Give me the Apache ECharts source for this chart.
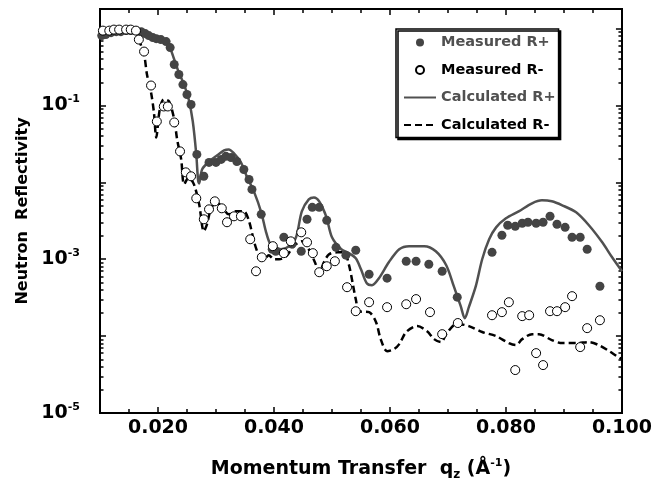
<!DOCTYPE html>
<html>
<head>
<meta charset="utf-8">
<script src="https://cdn.jsdelivr.net/npm/echarts@6/dist/echarts.min.js"></script>
<style>
  html, body { margin: 0; padding: 0; background: #fff; }
  #main { width: 655px; height: 487px; }
</style>
</head>
<body>
<div id="main"></div>
<script>
// measured R+ (filled circles)
var measPlusQ = [0.0103, 0.0110, 0.0119, 0.0128, 0.0136, 0.0145, 0.0153, 0.0162, 0.0171, 0.0178,
  0.0184, 0.0191, 0.0197, 0.0205, 0.0214, 0.0221, 0.0228, 0.0236, 0.0243, 0.0250,
  0.0257, 0.0267, 0.0279, 0.0288, 0.0300, 0.0309, 0.0317, 0.0326, 0.0336, 0.0348,
  0.0357, 0.0362, 0.0378, 0.0397, 0.0403, 0.0417, 0.0431, 0.0447, 0.0457, 0.0466,
  0.0478, 0.0491, 0.0507, 0.0524, 0.0541, 0.0564, 0.0595, 0.0628, 0.0645, 0.0667,
  0.0690, 0.0716, 0.0776, 0.0793, 0.0803, 0.0816, 0.0828, 0.0838, 0.0852, 0.0864,
  0.0876, 0.0888, 0.0902, 0.0914, 0.0928, 0.0940, 0.0962];
var measPlusR = [0.811, 0.836, 0.887, 0.914, 0.914, 0.942, 0.942, 0.942, 0.914, 0.861,
  0.811, 0.764, 0.741, 0.720, 0.678, 0.567, 0.341, 0.253, 0.187, 0.139,
  0.103, 0.0231, 0.0120, 0.0182, 0.0182, 0.0199, 0.0218, 0.0211, 0.0187, 0.0147,
  0.0109, 0.0081, 0.00384, 0.00135, 0.00127, 0.00193, 0.00157, 0.00127, 0.00331, 0.00473,
  0.00473, 0.00321, 0.00143, 0.00113, 0.00131, 0.000638, 0.000567, 0.000942, 0.000942, 0.000861,
  0.000698, 0.000321, 0.00123, 0.00205, 0.00277, 0.00268, 0.00294, 0.00303, 0.00294, 0.00303,
  0.00362, 0.00285, 0.00260, 0.00193, 0.00193, 0.00135, 0.000446];

// measured R- (open circles)
var measMinusQ = [0.0105, 0.0116, 0.0124, 0.0133, 0.0145, 0.0153, 0.0162, 0.0167, 0.0176, 0.0188,
  0.0198, 0.0210, 0.0217, 0.0228, 0.0238, 0.0248, 0.0257, 0.0266, 0.0279, 0.0288,
  0.0298, 0.0310, 0.0319, 0.0331, 0.0343, 0.0359, 0.0369, 0.0379, 0.0398, 0.0417,
  0.0429, 0.0447, 0.0457, 0.0467, 0.0478, 0.0491, 0.0505, 0.0526, 0.0541, 0.0564,
  0.0595, 0.0628, 0.0645, 0.0669, 0.0690, 0.0717, 0.0776, 0.0793, 0.0805, 0.0816,
  0.0828, 0.0840, 0.0852, 0.0864, 0.0876, 0.0888, 0.0902, 0.0914, 0.0928, 0.0940, 0.0962];
var measMinusR = [0.942, 0.942, 0.971, 0.971, 0.971, 0.971, 0.942, 0.720, 0.503, 0.182,
  0.0620, 0.0971, 0.0971, 0.0602, 0.0253, 0.0135, 0.0120, 0.00620, 0.00331, 0.00446,
  0.00567, 0.00460, 0.00303, 0.00362, 0.00362, 0.00182, 0.000698, 0.00106, 0.00148, 0.00120,
  0.00171, 0.00224, 0.00166, 0.00120, 0.000678, 0.000811, 0.000942, 0.000433, 0.000211, 0.000276,
  0.000238, 0.000260, 0.000303, 0.000205, 0.000106, 0.000148, 0.000187, 0.000205, 0.000276, 0.0000362,
  0.000182, 0.000187, 0.0000601, 0.0000420, 0.000211, 0.000211, 0.000238, 0.000331, 0.0000720, 0.000127, 0.000161];

// calculated R+ (solid grey)
var calcPlusQ = [0.0100, 0.0116, 0.0133, 0.0150, 0.0167, 0.0184, 0.0202, 0.0210, 0.0219, 0.0228,
  0.0236, 0.0245, 0.0253, 0.0260, 0.0266, 0.0269, 0.0271, 0.0276, 0.0288, 0.0300,
  0.0314, 0.0322, 0.0331, 0.0343, 0.0353, 0.0366, 0.0378, 0.0386, 0.0393, 0.0400,
  0.0412, 0.0426, 0.0438, 0.0448, 0.0460, 0.0469, 0.0478, 0.0490, 0.0500, 0.0516,
  0.0529, 0.0541, 0.0550, 0.0560, 0.0569, 0.0581, 0.0598, 0.0616, 0.0633, 0.0659,
  0.0679, 0.0697, 0.0710, 0.0722, 0.0729, 0.0736, 0.0748, 0.0759, 0.0771, 0.0783,
  0.0800, 0.0822, 0.0845, 0.0862, 0.0879, 0.0897, 0.0921, 0.0943, 0.0966, 0.0983, 0.1000];
var calcPlusR = [0.811, 0.861, 0.914, 0.942, 0.914, 0.836, 0.764, 0.699, 0.601, 0.396,
  0.268, 0.187, 0.120, 0.0620, 0.0231, 0.0109, 0.00970, 0.0147, 0.0187, 0.0218,
  0.0260, 0.0268, 0.0238, 0.0182, 0.0120, 0.00741, 0.00408, 0.00231, 0.00161, 0.00148,
  0.00135, 0.00148, 0.00193, 0.00420, 0.00601, 0.00638, 0.00567, 0.00362, 0.00193, 0.00135,
  0.00120, 0.00103, 0.000741, 0.000488, 0.000460, 0.000567, 0.000914, 0.00135, 0.00148, 0.00148,
  0.00127, 0.000836, 0.000446, 0.000245, 0.000171, 0.000238, 0.000446, 0.00100, 0.00182, 0.00260,
  0.00341, 0.00420, 0.00534, 0.00584, 0.00567, 0.00503, 0.00408, 0.00277, 0.00166, 0.00106, 0.000698];

// calculated R- (dashed black)
var calcMinusQ = [0.0100, 0.0116, 0.0133, 0.0150, 0.0162, 0.0167, 0.0176, 0.0181, 0.0188, 0.0193,
  0.0197, 0.0203, 0.0210, 0.0219, 0.0228, 0.0233, 0.0240, 0.0245, 0.0253, 0.0262,
  0.0271, 0.0279, 0.0284, 0.0291, 0.0300, 0.0310, 0.0322, 0.0334, 0.0348, 0.0357,
  0.0366, 0.0374, 0.0383, 0.0391, 0.0400, 0.0409, 0.0421, 0.0434, 0.0448, 0.0460,
  0.0472, 0.0478, 0.0486, 0.0495, 0.0509, 0.0521, 0.0529, 0.0536, 0.0541, 0.0547,
  0.0564, 0.0576, 0.0584, 0.0595, 0.0607, 0.0616, 0.0628, 0.0647, 0.0664, 0.0676,
  0.0688, 0.0697, 0.0710, 0.0719, 0.0736, 0.0759, 0.0783, 0.0805, 0.0817, 0.0828,
  0.0845, 0.0857, 0.0879, 0.0897, 0.0921, 0.0943, 0.0960, 0.0978, 0.0991, 0.1000];
var calcMinusR = [0.887, 0.942, 0.971, 0.971, 0.887, 0.720, 0.459, 0.253, 0.148, 0.0811,
  0.0384, 0.0887, 0.120, 0.113, 0.0658, 0.0362, 0.0199, 0.00942, 0.0116, 0.00942,
  0.00518, 0.00231, 0.00277, 0.00446, 0.00550, 0.00488, 0.00384, 0.00420, 0.00420, 0.00312,
  0.00166, 0.00113, 0.00100, 0.00113, 0.00100, 0.00100, 0.00109, 0.00148, 0.00171, 0.00135,
  0.000861, 0.000658, 0.000914, 0.00116, 0.00123, 0.00123, 0.000861, 0.000473, 0.000303, 0.000211,
  0.000205, 0.000152, 0.0000914, 0.0000638, 0.0000678, 0.0000787, 0.000113, 0.000135, 0.000116, 0.0000914,
  0.0000836, 0.000106, 0.000139, 0.000143, 0.000135, 0.000113, 0.000100, 0.0000811, 0.0000764, 0.0000914,
  0.000106, 0.000106, 0.0000887, 0.0000811, 0.0000811, 0.0000836, 0.0000764, 0.0000638, 0.0000550, 0.0000503];

// axis ticks
var xMajorTicks = [0.02, 0.04, 0.06, 0.08, 0.1];
var xMinorTicks = [0.015, 0.025, 0.03, 0.035, 0.045, 0.05, 0.055, 0.065, 0.07, 0.075, 0.085, 0.09, 0.095];
var yMajorTicks = [1e-5, 1e-4, 1e-3, 1e-2, 1e-1, 1];
var yLabelTicks = [1e-5, 1e-3, 1e-1];
var yMinorTicks = [];
for (var p = -5; p <= 0; p++) {
  for (var k = 2; k <= 9; k++) {
    var v = k * Math.pow(10, p);
    if (v < 1.8) yMinorTicks.push(v);
  }
}

function zip(xs, ys) {
  return xs.map(function (x, i) { return [x, ys[i]]; });
}

var font = 'DejaVu Sans';
var grey = '#505050';

function xAx(pos, ticks, len, withLabels) {
  var ax = {
    type: 'value', position: pos, min: 0.01, max: 0.1,
    axisLine: { onZero: false, lineStyle: { color: '#000', width: 2 } },
    axisTick: { inside: true, length: len, customValues: ticks, lineStyle: { color: '#000', width: 1.5 } },
    axisLabel: { show: false },
    splitLine: { show: false }
  };
  if (withLabels) {
    ax.axisLabel = {
      customValues: xMajorTicks, margin: 6, color: '#000',
      fontFamily: font, fontWeight: 'bold', fontSize: 19,
      formatter: function (v) { return v.toFixed(3); }
    };
    ax.name = 'Momentum Transfer  q{sub|z} (Å{sup|-1})';
    ax.nameLocation = 'middle';
    ax.nameGap = 45;
    ax.nameTextStyle = {
      color: '#000', fontFamily: font, fontWeight: 'bold', fontSize: 19,
      rich: {
        sub: { fontFamily: font, fontWeight: 'bold', fontSize: 12, padding: [10, 0, 0, 0] },
        sup: { fontFamily: font, fontWeight: 'bold', fontSize: 11, padding: [0, 0, 12, 0] }
      }
    };
  }
  return ax;
}

function yAx(pos, ticks, len, withLabels) {
  var ax = {
    type: 'log', logBase: 10, position: pos, min: 1e-5, max: 1.8,
    axisLine: { onZero: false, lineStyle: { color: '#000', width: 2 } },
    axisTick: { inside: true, length: len, customValues: ticks, lineStyle: { color: '#000', width: 1.5 } },
    axisLabel: { show: false },
    splitLine: { show: false }
  };
  if (withLabels) {
    ax.axisLabel = {
      customValues: yLabelTicks, margin: 20, color: '#000',
      fontFamily: font, fontWeight: 'bold', fontSize: 19,
      formatter: function (v) { return '10{sup|' + Math.round(Math.log10(v)) + '}'; },
      rich: { sup: { fontFamily: font, fontWeight: 'bold', fontSize: 11, padding: [0, 0, 12, 0] } }
    };
    ax.name = 'Neutron  Reflectivity';
    ax.nameLocation = 'middle';
    ax.nameGap = 68;
    ax.nameTextStyle = { color: '#000', fontFamily: font, fontWeight: 'bold', fontSize: 16 };
  }
  return ax;
}

var chart = echarts.init(document.getElementById('main'));

var option = {
  animation: false,
  backgroundColor: '#fff',
  grid: { left: 100, right: 32, top: 9, bottom: 74 },
  xAxis: [
    xAx('bottom', xMajorTicks, 6, true),
    xAx('bottom', xMinorTicks, 4, false),
    xAx('top', xMajorTicks, 6, false),
    xAx('top', xMinorTicks, 4, false)
  ],
  yAxis: [
    yAx('left', yMajorTicks, 6, true),
    yAx('left', yMinorTicks, 3.5, false),
    yAx('right', yMajorTicks, 6, false),
    yAx('right', yMinorTicks, 3.5, false)
  ],
  legend: {
    orient: 'vertical', left: 396, top: 29,
    padding: [6, 3, 5, 7], itemGap: 12.5, itemWidth: 32, itemHeight: 8,
    backgroundColor: '#fff', borderColor: '#000', borderWidth: 1.5,
    shadowColor: '#000', shadowBlur: 0.5, shadowOffsetX: 2, shadowOffsetY: 2,
    textStyle: { fontFamily: font, fontWeight: 'bold', fontSize: 14.5 },
    data: [
      { name: 'Measured R+', textStyle: { color: grey } },
      { name: 'Measured R-', textStyle: { color: '#000' } },
      { name: 'Calculated R+', textStyle: { color: grey }, itemStyle: { opacity: 0 } },
      { name: 'Calculated R-', textStyle: { color: '#000' }, itemStyle: { opacity: 0 } }
    ]
  },
  series: [
    {
      name: 'Calculated R+', type: 'line', data: zip(calcPlusQ, calcPlusR),
      symbol: 'none', smooth: 0.3, z: 2,
      lineStyle: { color: grey, width: 2.5 }, itemStyle: { color: grey }
    },
    {
      name: 'Calculated R-', type: 'line', data: zip(calcMinusQ, calcMinusR),
      symbol: 'none', smooth: 0.3, z: 2,
      lineStyle: { color: '#000', width: 2.5, type: [7, 4] }, itemStyle: { color: '#000' }
    },
    {
      name: 'Measured R+', type: 'scatter', data: zip(measPlusQ, measPlusR),
      symbol: 'circle', symbolSize: 9, z: 3,
      itemStyle: { color: '#444', opacity: 1 }
    },
    {
      name: 'Measured R-', type: 'scatter', data: zip(measMinusQ, measMinusR),
      symbol: 'circle', symbolSize: 9, z: 3,
      itemStyle: { color: '#fff', borderColor: '#000', borderWidth: 1, opacity: 1 }
    }
  ]
};

chart.setOption(option);
</script>
</body>
</html>
